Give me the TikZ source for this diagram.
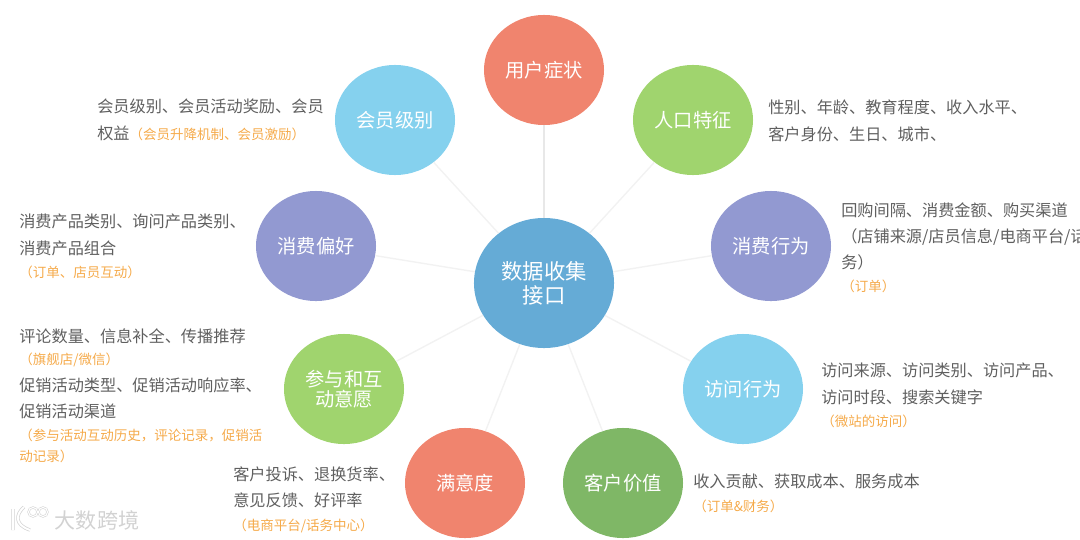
\documentclass[tikz,border=0pt]{standalone}
\usepackage{fontspec}
\setmainfont{Noto Sans CJK SC}
\usetikzlibrary{positioning,shapes.geometric}
\definecolor{salmonfill}{HTML}{F0846E}
\definecolor{greenfill}{HTML}{A0D46E}
\definecolor{dkgreenfill}{HTML}{7FB766}
\definecolor{purplefill}{HTML}{9299D1}
\definecolor{skyfill}{HTML}{85D1EE}
\definecolor{hubfill}{HTML}{65ABD6}
\definecolor{bodygray}{HTML}{5F5F5F}
\definecolor{noteorange}{HTML}{F5AA4A}
\newcommand{\note}[1]{{\color{noteorange}\fontsize{9.6}{12}\selectfont #1}}
\tikzset{
  topic/.style={ellipse,minimum width=3.0cm,minimum height=2.75cm,inner sep=0pt,
    text=white,align=center,font=\fontsize{13.7}{14.5}\selectfont},
  infotext/.style={anchor=north west,inner sep=0pt,align=left,text=bodygray,
    font=\fontsize{11.5}{18.6}\selectfont},
  spoke/.style={draw=gray!10,line width=1pt}
}
\begin{document}
\begin{tikzpicture}[x=0.025cm,y=-0.025cm]
  \useasboundingbox (0,0) rectangle (1080,540);
  \clip (0,0) rectangle (1080,540);
  \node[topic,fill=hubfill,minimum width=3.5cm,minimum height=3.25cm,
    font=\fontsize{15.2}{17}\selectfont] (hub) at (544,283) {数据收集\\接口};
  \node[topic,fill=salmonfill] (symptom) at (544,70) {用户症状};
  \node[topic,fill=greenfill] (people) at (693,120) {人口特征};
  \node[topic,fill=purplefill] (spend) at (771,246) {消费行为};
  \node[topic,fill=skyfill] (visit) at (743,389) {访问行为};
  \node[topic,fill=dkgreenfill] (value) at (623,483) {客户价值};
  \node[topic,fill=salmonfill] (satisfy) at (465,483) {满意度};
  \node[topic,fill=greenfill] (engage) at (344,389) {参与和互\\动意愿};
  \node[topic,fill=purplefill] (prefer) at (316,246) {消费偏好};
  \node[topic,fill=skyfill] (member) at (395,120) {会员级别};
  % spokes
  \draw[spoke,draw=gray!18] (hub) -- (symptom);
  \draw[spoke] (hub) -- (people);
  \draw[spoke] (hub) -- (spend);
  \draw[spoke] (hub) -- (visit);
  \draw[spoke] (hub) -- (value);
  \draw[spoke] (hub) -- (satisfy);
  \draw[spoke] (hub) -- (engage);
  \draw[spoke] (hub) -- (prefer);
  \draw[spoke] (hub) -- (member);
  % text blocks
  \node[infotext] (membertext) at (97,99) {会员级别、会员活动奖励、会员\\
    权益\note{（会员升降机制、会员激励）}};
  \node[infotext] (peopletext) at (768,100) {性别、年龄、教育程度、收入水平、\\
    客户身份、生日、城市、};
  \node[infotext] (prefertext) at (19,214) {消费产品类别、询问产品类别、\\
    消费产品组合\\[-1.8pt]\note{（订单、店员互动）}};
  \node[infotext] (spendtext) at (841,202) {回购间隔、消费金额、购买渠道\\
    （店铺来源/店员信息/电商平台/话\\务）\\[-2.2pt]\note{（订单）}};
  \node[infotext] (visittext) at (821,363) {访问来源、访问类别、访问产品、\\
    访问时段、搜索关键字\\[-2.2pt]\note{（微站的访问）}};
  \node[infotext] (engagetext) at (19,328) {评论数量、信息补全、传播推荐\\[-2.4pt]
    \note{（旗舰店/微信）}\\[0.4pt]促销活动类型、促销活动响应率、\\
    促销活动渠道\\[-2.4pt]\note{（参与活动互动历史，评论记录，促销活}\\[-3.7pt]
    \note{动记录）}};
  \node[infotext] (satisfytext) at (233,466) {客户投诉、退换货率、\\
    意见反馈、好评率\\[-1.6pt]\note{（电商平台/话务中心）}};
  \node[infotext] (valuetext) at (693,474) {收入贡献、获取成本、服务成本\\[-1.6pt]
    \note{（订单\&财务）}};
  % watermark
  \draw[draw=gray!35,double=white,double distance=1.4pt,line width=0.5pt]
    (13,509) -- (13,530) (24,507) .. controls (15,515) and (15,525) .. (30,530);
  \draw[draw=gray!35,double=white,double distance=0.8pt,line width=0.4pt]
    (33,512) circle (4.5) (43,512) circle (4.5);
  \node[text=gray!35,inner sep=0pt,font=\fontsize{15}{16}\selectfont] (mark) at (97,520) {大数跨境};
\end{tikzpicture}
\end{document}
